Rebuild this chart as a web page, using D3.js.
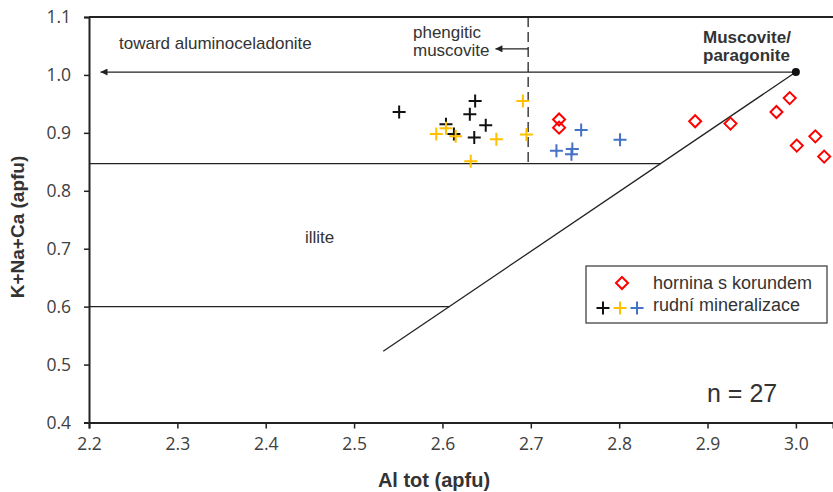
<!DOCTYPE html>
<html>
<head>
<meta charset="utf-8">
<script src="https://cdn.jsdelivr.net/npm/d3@7"></script>
<style>
  body { margin: 0; background: #fff; }
  svg text { font-family: "Liberation Sans", Arial, sans-serif; }
</style>
</head>
<body>
<div id="chart"></div>
<script>
// data
var corundumAl = [2.732, 2.732, 2.886, 2.926, 2.978, 2.993, 3.001, 3.022, 3.032];
var corundumSum = [0.923, 0.909, 0.920, 0.916, 0.936, 0.960, 0.878, 0.894, 0.859];

var oreBlackAl = [2.551, 2.637, 2.631, 2.649, 2.604, 2.613, 2.636];
var oreBlackSum = [0.936, 0.955, 0.932, 0.913, 0.915, 0.898, 0.892];

var oreYellowAl = [2.604, 2.593, 2.615, 2.661, 2.632, 2.691, 2.695];
var oreYellowSum = [0.908, 0.898, 0.894, 0.889, 0.851, 0.955, 0.897];

var oreBlueAl = [2.757, 2.729, 2.747, 2.746, 2.801];
var oreBlueSum = [0.905, 0.869, 0.872, 0.863, 0.888];

var xTicks = [2.2, 2.3, 2.4, 2.5, 2.6, 2.7, 2.8, 2.9, 3.0];
var yTicks = [0.4, 0.5, 0.6, 0.7, 0.8, 0.9, 1.0, 1.1];

// reference lines of the diagram
var muscovitePoint = [3.0, 1.005];
var diagonalStart = [2.533, 0.523];
var illiteUpper = 0.847;
var illiteLower = 0.6;
var phengiticLimit = 2.697;

var width = 833, height = 492;

var svg = d3.select("#chart").append("svg")
  .attr("width", width)
  .attr("height", height);

var x = d3.scaleLinear().domain([2.2, 3.042]).range([89, 833]);
var y = d3.scaleLinear().domain([0.4, 1.1]).range([422.5, 17]);

// where the diagonal crosses a given y value
var slope = (muscovitePoint[1] - diagonalStart[1]) / (muscovitePoint[0] - diagonalStart[0]);
function diagX(v) {
  return diagonalStart[0] + (v - diagonalStart[1]) / slope;
}

// arrow marker (tip at the start of the line)
svg.append("defs").append("marker")
  .attr("id", "arr")
  .attr("viewBox", "0 0 10 10")
  .attr("refX", 0).attr("refY", 5)
  .attr("markerWidth", 9).attr("markerHeight", 7)
  .attr("markerUnits", "userSpaceOnUse")
  .attr("orient", "auto")
  .append("path")
  .attr("d", "M0,5L10,0L10,10Z")
  .attr("fill", "#222");

var lines = svg.append("g").attr("stroke", "#222").attr("stroke-width", 1.3).attr("fill", "none");

// top border
lines.append("line")
  .attr("x1", x(2.2)).attr("x2", width)
  .attr("y1", y(1.1)).attr("y2", y(1.1))
  .attr("stroke-width", 2);

// illite bounds
lines.append("line")
  .attr("x1", x(2.2)).attr("x2", x(diagX(illiteUpper)))
  .attr("y1", y(illiteUpper)).attr("y2", y(illiteUpper));
lines.append("line")
  .attr("x1", x(2.2)).attr("x2", x(diagX(illiteLower)))
  .attr("y1", y(illiteLower)).attr("y2", y(illiteLower));

// diagonal
lines.append("line")
  .attr("x1", x(diagonalStart[0])).attr("y1", y(diagonalStart[1]))
  .attr("x2", x(muscovitePoint[0])).attr("y2", y(muscovitePoint[1]));

// arrow toward aluminoceladonite
lines.append("line")
  .attr("x1", x(2.213)).attr("y1", y(muscovitePoint[1]))
  .attr("x2", x(muscovitePoint[0])).attr("y2", y(muscovitePoint[1]))
  .attr("marker-start", "url(#arr)");

// phengitic limit
lines.append("line")
  .attr("x1", x(phengiticLimit)).attr("x2", x(phengiticLimit))
  .attr("y1", y(1.1)).attr("y2", y(illiteUpper))
  .attr("stroke-dasharray", "10,5");
lines.append("line")
  .attr("x1", x(2.66)).attr("x2", x(phengiticLimit))
  .attr("y1", y(1.045)).attr("y2", y(1.045))
  .attr("marker-start", "url(#arr)");

svg.append("circle")
  .attr("cx", x(muscovitePoint[0])).attr("cy", y(muscovitePoint[1]))
  .attr("r", 4).attr("fill", "#111");

// axes
var xAxis = svg.append("g")
  .attr("transform", "translate(0," + y(0.4) + ")")
  .call(d3.axisBottom(x).tickValues(xTicks).tickSize(6).tickPadding(9).tickFormat(d3.format(".1f")));
xAxis.select(".domain").attr("stroke", "#222").attr("stroke-width", 2);
xAxis.selectAll(".tick line").attr("stroke", "#222").attr("stroke-width", 1.5);

var yAxis = svg.append("g")
  .attr("transform", "translate(" + x(2.2) + ",0)")
  .call(d3.axisLeft(y).tickValues(yTicks).tickSize(5).tickPadding(13).tickFormat(d3.format(".1f")));
yAxis.select(".domain").attr("stroke", "#222").attr("stroke-width", 2);
yAxis.selectAll(".tick line").attr("stroke", "#222").attr("stroke-width", 1.5);

svg.selectAll(".tick text")
  .style("font-family", "'Open Sans', sans-serif")
  .style("font-size", "17.5px")
  .attr("fill", "#404040");

// axis titles
svg.append("text")
  .attr("x", 434).attr("y", 487)
  .attr("text-anchor", "middle")
  .attr("font-size", 20).attr("font-weight", "bold").attr("fill", "#333")
  .text("Al tot (apfu)");
svg.append("text")
  .attr("transform", "translate(24,227) rotate(-90)")
  .attr("text-anchor", "middle")
  .attr("font-size", 19).attr("font-weight", "bold").attr("fill", "#333")
  .text("K+Na+Ca (apfu)");

// annotations
var ann = svg.append("g").attr("fill", "#333").attr("font-size", 17);
ann.append("text").attr("x", 119).attr("y", 49).text("toward aluminoceladonite");
ann.append("text").attr("x", 413).attr("y", 38).text("phengitic");
ann.append("text").attr("x", 413).attr("y", 56).text("muscovite");
ann.append("text").attr("x", 305).attr("y", 243).text("illite");
ann.append("text").attr("x", 703).attr("y", 43).attr("font-weight", "bold").text("Muscovite/");
ann.append("text").attr("x", 703).attr("y", 61).attr("font-weight", "bold").text("paragonite");
ann.append("text").attr("x", 707).attr("y", 402).attr("font-size", 25).text("n = 27");

// marker helpers
function cross(g, cx, cy, color) {
  g.append("path")
    .attr("d", "M" + (cx - 6.5) + "," + cy + "H" + (cx + 6.5) + "M" + cx + "," + (cy - 6.5) + "V" + (cy + 6.5))
    .attr("stroke", color).attr("stroke-width", 2).attr("fill", "none");
}
function diamond(g, cx, cy) {
  g.append("path")
    .attr("d", "M" + cx + "," + (cy - 6) + "L" + (cx + 6) + "," + cy + "L" + cx + "," + (cy + 6) + "L" + (cx - 6) + "," + cy + "Z")
    .attr("stroke", "#ff0000").attr("stroke-width", 2).attr("fill", "none");
}

var pts = svg.append("g");
var crossSeries = [
  [oreBlackAl, oreBlackSum, "#111"],
  [oreYellowAl, oreYellowSum, "#ffc000"],
  [oreBlueAl, oreBlueSum, "#4472c4"]
];
crossSeries.forEach(function(s) {
  s[0].forEach(function(d, i) {
    cross(pts, x(d), y(s[1][i]), s[2]);
  });
});
corundumAl.forEach(function(d, i) {
  diamond(pts, x(d), y(corundumSum[i]));
});

// legend
var lg = svg.append("g");
lg.append("rect")
  .attr("x", 586).attr("y", 266).attr("width", 241).attr("height", 57)
  .attr("fill", "#fff").attr("stroke", "#444").attr("stroke-width", 1.3);
diamond(lg, 622, 283);
cross(lg, 603, 308, "#111");
cross(lg, 620, 308, "#ffc000");
cross(lg, 637, 308, "#4472c4");
lg.append("text").attr("x", 653).attr("y", 289).attr("font-size", 18).attr("fill", "#333").text("hornina s korundem");
lg.append("text").attr("x", 653).attr("y", 311).attr("font-size", 18).attr("fill", "#333").text("rudní mineralizace");
</script>
</body>
</html>
